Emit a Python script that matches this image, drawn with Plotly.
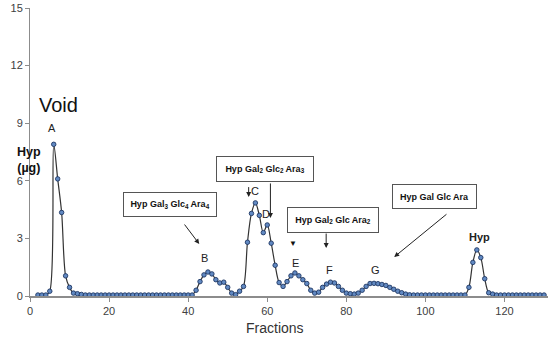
import plotly.graph_objects as go

# fractions 2..130 and Hyp (ug) per fraction
fractions = list(range(2, 131))
hyp = [
    0.05, 0.05, 0.05, 0.25, 7.9, 6.1, 4.35, 1.05, 0.45, 0.15,          # 2-11
    0.12, 0.08, 0.05, 0.05, 0.05, 0.05, 0.05, 0.05, 0.05, 0.05,        # 12-21
    0.05, 0.05, 0.05, 0.05, 0.05, 0.05, 0.05, 0.05, 0.05, 0.05,        # 22-31
    0.05, 0.05, 0.05, 0.05, 0.05, 0.05, 0.05, 0.05, 0.05, 0.05,        # 32-41
    0.3, 0.75, 1.1, 1.25, 1.15, 0.85, 0.68, 0.72, 0.45, 0.15,          # 42-51
    0.07, 0.25, 0.5, 2.8, 4.3, 4.85, 4.2, 3.3, 3.7, 2.75,              # 52-61
    1.6, 0.7, 0.5, 0.75, 1.05, 1.2, 1.05, 0.85, 0.65, 0.3,             # 62-71
    0.15, 0.2, 0.45, 0.62, 0.72, 0.68, 0.5, 0.3, 0.15, 0.12,           # 72-81
    0.1, 0.15, 0.3, 0.5, 0.65, 0.66, 0.64, 0.6, 0.55, 0.45,            # 82-91
    0.35, 0.25, 0.17, 0.1, 0.06, 0.05, 0.05, 0.05, 0.05, 0.05,         # 92-101
    0.05, 0.05, 0.05, 0.05, 0.05, 0.05, 0.05, 0.05, 0.05, 0.45,        # 102-111
    1.75, 2.4, 2.0, 0.9, 0.17, 0.1, 0.05, 0.05, 0.05, 0.05,            # 112-121
    0.05, 0.05, 0.05, 0.05, 0.05, 0.05, 0.05, 0.05, 0.05,              # 122-130
]

x_ticks = [0, 20, 40, 60, 80, 100, 120]
y_ticks = [0, 3, 6, 9, 12, 15]

# peak letters: (label, fraction, value)
peak_labels = [("A", 5.6, 8.75), ("B", 44.1, 1.98), ("C", 56.9, 5.47), ("D", 59.8, 4.25),
               ("E", 67.2, 1.73), ("F", 75.7, 1.35), ("G", 87.5, 1.35)]

# boxed structure labels: (text, fraction, value, width, height)
boxes = [
    ("Hyp Gal<sub>3</sub> Glc<sub>4</sub> Ara<sub>4</sub>", 35.4, 4.74, 88, 19),
    ("Hyp Gal<sub>2</sub> Glc<sub>2</sub> Ara<sub>3</sub>", 59.4, 6.59, 92, 20),
    ("Hyp Gal<sub>2</sub> Glc Ara<sub>2</sub>", 76.6, 3.98, 86, 20),
    ("Hyp Gal Glc Ara", 102.4, 5.16, 79, 19),
]

# arrows: (tail fraction, tail value, head fraction, head value)
arrows = [
    (38.8, 3.8, 42.8, 2.71),
    (60.8, 5.94, 60.8, 4.06),
    (55.3, 5.75, 55.3, 5.15),
    (74.9, 3.33, 74.9, 2.5),
    (105.7, 4.32, 92.1, 2.03),
]

fig = go.Figure()
fig.add_trace(go.Scatter(
    x=fractions, y=hyp, mode="lines+markers",
    line=dict(color="#333333", width=1.2, shape="spline", smoothing=0.9),
    marker=dict(symbol="circle", size=4.5, color="#6189c2",
                line=dict(color="#1f3864", width=0.9)),
    showlegend=False, cliponaxis=False,
))

font = "Liberation Sans, Arial, sans-serif"
ann = []
for t, xv, yv in peak_labels:
    ann.append(dict(x=xv, y=yv, text=t, showarrow=False, font=dict(size=11, color="#222")))
for t, xv, yv, w, h in boxes:
    ann.append(dict(x=xv, y=yv, text="<b>" + t + "</b>", showarrow=False,
                    font=dict(size=9, color="#111"), bordercolor="#555", borderwidth=1,
                    borderpad=2, bgcolor="white", width=w, height=h))
for tx, ty, hx, hy in arrows:
    ann.append(dict(x=hx, y=hy, ax=tx, ay=ty, axref="x", ayref="y", text="",
                    showarrow=True, arrowhead=2, arrowsize=1, arrowwidth=1, arrowcolor="#222"))
ann.append(dict(x=66.6, y=2.76, text="▼", showarrow=False, font=dict(size=8, color="#111")))
ann.append(dict(x=7.3, y=9.95, text="Void", showarrow=False, font=dict(size=20, color="#111")))
ann.append(dict(x=113.6, y=3.09, text="<b>Hyp</b>", showarrow=False, font=dict(size=11, color="#222")))
ann.append(dict(x=-0.028, xref="paper", y=7.08, text="<b>Hyp<br>(µg)</b>", showarrow=False,
                font=dict(size=12.5, color="#111")))
ann.append(dict(x=62, y=-0.111, yref="paper", yanchor="middle", text="Fractions", showarrow=False,
                font=dict(size=14, color="#333")))

fig.update_layout(
    width=550, height=337,
    margin=dict(l=29.5, r=2, t=8, b=41),
    paper_bgcolor="white", plot_bgcolor="white",
    font=dict(family=font, size=11, color="#404040"),
    annotations=ann,
)
fig.update_xaxes(range=[0, 131], tickvals=x_ticks, showgrid=False, zeroline=False,
                 showline=True, linecolor="#8c8c8c", linewidth=1.5,
                 ticks="outside", ticklen=4, tickcolor="#8c8c8c")
fig.update_yaxes(range=[0, 15], tickvals=y_ticks, showgrid=False, zeroline=False,
                 showline=True, linecolor="#8c8c8c", linewidth=1,
                 ticks="outside", ticklen=4, tickcolor="#8c8c8c")

fig.write_html("out.html", config={"displayModeBar": False},
               post_script="document.body.style.margin='0';")
